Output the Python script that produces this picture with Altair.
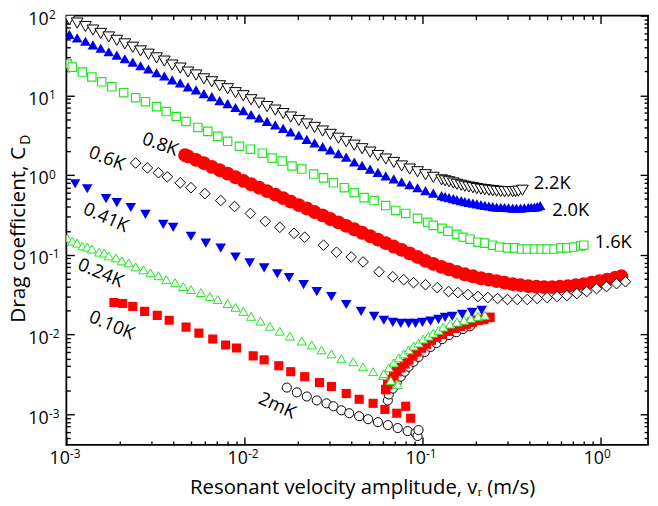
import altair as alt
import pandas as pd

# ---------------- data (v in m/s, C_D) ----------------
# 2.2K  (open triangles)
v_22 = [1.04e-3, 1.15e-3, 1.28e-3, 1.41e-3, 1.56e-3, 1.73e-3, 1.92e-3, 2.13e-3, 2.36e-3, 2.61e-3,
        2.89e-3, 3.21e-3, 3.55e-3, 3.93e-3, 4.36e-3, 4.82e-3, 5.35e-3, 5.92e-3, 6.56e-3, 7.26e-3,
        8.05e-3, 8.91e-3, 9.86e-3, 0.0109, 0.0121, 0.0134, 0.0149, 0.0165, 0.0182, 0.0202,
        0.0224, 0.0248, 0.0275, 0.0304, 0.0337, 0.0373, 0.0414, 0.0458, 0.0508, 0.0562,
        0.0622, 0.0690, 0.0764, 0.0847, 0.0938, 0.104, 0.115, 0.128, 0.134, 0.141,
        0.149, 0.156, 0.165, 0.173, 0.182, 0.192, 0.202, 0.213, 0.224, 0.236,
        0.248, 0.261, 0.275, 0.289, 0.304, 0.321, 0.333, 0.346, 0.364]
cd_22 = [89.2, 80.7, 73.1, 65.9, 59.8, 54.0, 49.0, 44.2, 40.1, 36.1,
         32.8, 29.5, 26.9, 24.0, 22.0, 19.6, 18.0, 16.1, 14.8, 13.2,
         12.1, 10.8, 9.89, 8.81, 7.98, 7.22, 6.53, 5.91, 5.35, 4.84,
         4.37, 3.96, 3.57, 3.24, 2.90, 2.62, 2.37, 2.14, 1.94, 1.76,
         1.59, 1.44, 1.30, 1.19, 1.10, 1.01, 0.937, 0.871, 0.847, 0.824,
         0.795, 0.767, 0.745, 0.724, 0.708, 0.694, 0.678, 0.665, 0.655, 0.646,
         0.637, 0.628, 0.622, 0.619, 0.619, 0.619, 0.622, 0.628, 0.646]

# 2.0K  (filled triangles)
v_20 = [1.04e-3, 1.15e-3, 1.28e-3, 1.41e-3, 1.56e-3, 1.73e-3, 1.92e-3, 2.13e-3, 2.36e-3, 2.61e-3,
        2.89e-3, 3.21e-3, 3.55e-3, 3.93e-3, 4.36e-3, 4.82e-3, 5.35e-3, 5.92e-3, 6.56e-3, 7.26e-3,
        8.05e-3, 8.91e-3, 9.86e-3, 0.0109, 0.0121, 0.0134, 0.0149, 0.0165, 0.0182, 0.0202,
        0.0224, 0.0248, 0.0275, 0.0304, 0.0337, 0.0373, 0.0414, 0.0458, 0.0508, 0.0562,
        0.0622, 0.0690, 0.0764, 0.0847, 0.0938, 0.104, 0.115, 0.128, 0.134, 0.141,
        0.149, 0.156, 0.165, 0.173, 0.182, 0.192, 0.202, 0.213, 0.224, 0.236,
        0.248, 0.261, 0.275, 0.289, 0.304, 0.321, 0.337, 0.355, 0.373, 0.393,
        0.408, 0.425, 0.441, 0.458]
cd_20 = [58.2, 52.6, 47.7, 43.0, 39.0, 35.2, 31.9, 28.8, 26.1, 23.5,
         21.4, 19.2, 17.5, 15.6, 14.3, 12.8, 11.7, 10.5, 9.65, 8.61,
         7.89, 7.04, 6.45, 5.74, 5.20, 4.71, 4.26, 3.85, 3.49, 3.16,
         2.80, 2.53, 2.28, 2.07, 1.86, 1.68, 1.46, 1.32, 1.19, 1.08,
         0.977, 0.897, 0.823, 0.756, 0.694, 0.637, 0.593, 0.552, 0.536, 0.521,
         0.506, 0.492, 0.479, 0.465, 0.455, 0.445, 0.436, 0.427, 0.417, 0.409,
         0.403, 0.397, 0.394, 0.392, 0.389, 0.386, 0.386, 0.386, 0.389, 0.392,
         0.394, 0.397, 0.403, 0.415]

# 1.6K  (open squares)
v_16 = [1.01e-3, 1.08e-3, 1.23e-3, 1.39e-3, 1.58e-3, 1.80e-3, 2.10e-3, 2.45e-3, 2.78e-3, 3.21e-3,
        3.64e-3, 4.14e-3, 4.70e-3, 5.48e-3, 6.23e-3, 7.08e-3, 8.05e-3, 9.38e-3, 0.0108, 0.0126,
        0.0143, 0.0163, 0.0185, 0.0210, 0.0245, 0.0278, 0.0316, 0.0364, 0.0414, 0.0470,
        0.0535, 0.0622, 0.0708, 0.0805, 0.0938, 0.107, 0.115, 0.129, 0.139, 0.156,
        0.169, 0.185, 0.205, 0.224, 0.248, 0.271, 0.300, 0.329, 0.360, 0.388,
        0.425, 0.464, 0.501, 0.548, 0.600, 0.647, 0.708, 0.774, 0.805]
cd_16 = [24.7, 22.6, 19.6, 17.0, 14.8, 12.8, 10.8, 9.33, 8.33, 7.22,
         6.26, 5.43, 4.70, 3.96, 3.53, 3.06, 2.65, 2.30, 2.11, 1.88,
         1.63, 1.50, 1.30, 1.19, 1.03, 0.923, 0.800, 0.694, 0.601, 0.521,
         0.479, 0.415, 0.360, 0.330, 0.286, 0.255, 0.234, 0.215, 0.197, 0.181,
         0.166, 0.157, 0.144, 0.140, 0.132, 0.125, 0.122, 0.122, 0.118, 0.118,
         0.118, 0.118, 0.118, 0.118, 0.122, 0.122, 0.125, 0.129, 0.132]

# 0.8K  (filled circles)
v_08 = [4.64e-3, 4.82e-3, 5.35e-3, 5.92e-3, 6.56e-3, 7.26e-3, 8.05e-3, 8.91e-3, 9.86e-3, 0.0109,
        0.0121, 0.0134, 0.0149, 0.0165, 0.0182, 0.0202, 0.0224, 0.0248, 0.0275, 0.0304,
        0.0337, 0.0373, 0.0414, 0.0458, 0.0508, 0.0562, 0.0622, 0.0690, 0.0764, 0.0847,
        0.0938, 0.104, 0.115, 0.128, 0.141, 0.156, 0.173, 0.192, 0.213, 0.236,
        0.261, 0.289, 0.321, 0.355, 0.393, 0.436, 0.482, 0.535, 0.592, 0.656,
        0.726, 0.805, 0.891, 0.986, 1.09, 1.21, 1.31]
cd_08 = [1.78, 1.72, 1.55, 1.41, 1.27, 1.15, 1.04, 0.939, 0.848, 0.767,
         0.694, 0.628, 0.568, 0.513, 0.465, 0.420, 0.381, 0.344, 0.312, 0.281,
         0.255, 0.230, 0.209, 0.189, 0.171, 0.155, 0.140, 0.127, 0.115, 0.104,
         0.0939, 0.0838, 0.0769, 0.0706, 0.0657, 0.0612, 0.0570, 0.0538, 0.0508, 0.0487,
         0.0467, 0.0447, 0.0428, 0.0416, 0.0404, 0.0399, 0.0393, 0.0393, 0.0399, 0.0404,
         0.0416, 0.0428, 0.0447, 0.0467, 0.0487, 0.0516, 0.0538]

# 0.6K  (open diamonds)
v_06 = [2.45e-3, 2.85e-3, 3.29e-3, 3.69e-3, 4.36e-3, 5.01e-3, 6.00e-3, 7.36e-3, 8.80e-3, 0.0108,
        0.0131, 0.0158, 0.0190, 0.0218, 0.0278, 0.0329, 0.0398, 0.0464, 0.0570, 0.0681,
        0.0784, 0.0891, 0.104, 0.121, 0.140, 0.158, 0.180, 0.205, 0.233, 0.264,
        0.300, 0.341, 0.388, 0.441, 0.501, 0.570, 0.647, 0.736, 0.836, 0.950,
        1.08, 1.23, 1.38]
cd_06 = [1.42, 1.23, 1.07, 0.950, 0.800, 0.694, 0.585, 0.479, 0.403, 0.330,
         0.263, 0.221, 0.186, 0.166, 0.132, 0.108, 0.0939, 0.0814, 0.0612, 0.0530,
         0.0487, 0.0447, 0.0422, 0.0387, 0.0346, 0.0336, 0.0317, 0.0300, 0.0291, 0.0283,
         0.0275, 0.0275, 0.0275, 0.0283, 0.0291, 0.0300, 0.0308, 0.0326, 0.0346, 0.0376,
         0.0399, 0.0434, 0.0460]

# 0.41K (filled down-triangles)
v_041 = [1.12e-3, 1.31e-3, 1.67e-3, 1.92e-3, 2.30e-3, 2.78e-3, 3.50e-3, 3.98e-3, 5.01e-3, 6.07e-3,
         7.36e-3, 8.91e-3, 0.0107, 0.0129, 0.0153, 0.0178, 0.0215, 0.0255, 0.0308, 0.0373,
         0.0452, 0.0535, 0.0607, 0.0681, 0.0755, 0.0836, 0.0914, 0.100, 0.111, 0.123,
         0.134, 0.147, 0.167, 0.190, 0.215]
cd_041 = [0.778, 0.674, 0.507, 0.452, 0.392, 0.321, 0.241, 0.221, 0.171, 0.140,
          0.121, 0.0939, 0.0791, 0.0686, 0.0578, 0.0516, 0.0422, 0.0346, 0.0300, 0.0238,
          0.0195, 0.0169, 0.0151, 0.0142, 0.0138, 0.0138, 0.0138, 0.0142, 0.0147, 0.0155,
          0.0164, 0.0169, 0.0179, 0.0190, 0.0201]

# 0.24K (open up-triangles): decreasing branch, then rising branch
v_024 = [1.01e-3, 1.08e-3, 1.15e-3, 1.23e-3, 1.31e-3, 1.39e-3, 1.53e-3, 1.63e-3, 1.73e-3, 1.90e-3,
         2.05e-3, 2.24e-3, 2.45e-3, 2.71e-3, 2.97e-3, 3.29e-3, 3.64e-3, 4.08e-3, 4.53e-3, 5.01e-3,
         5.70e-3, 6.39e-3, 7.08e-3, 8.05e-3, 8.91e-3, 9.86e-3, 0.0109, 0.0123, 0.0139, 0.0158,
         0.0180, 0.0210, 0.0239, 0.0271, 0.0308, 0.0350, 0.0408, 0.0464, 0.0528, 0.0600,
         0.0664, 0.0726]
cd_024 = [0.162, 0.148, 0.140, 0.129, 0.125, 0.118, 0.108, 0.105, 0.0966, 0.0913,
          0.0838, 0.0791, 0.0706, 0.0648, 0.0594, 0.0546, 0.0487, 0.0447, 0.0399, 0.0366,
          0.0336, 0.0300, 0.0275, 0.0245, 0.0219, 0.0195, 0.0169, 0.0147, 0.0127, 0.0110,
          0.00955, 0.00828, 0.00739, 0.00641, 0.00571, 0.00495, 0.00455, 0.00394, 0.00342, 0.00305,
          0.00264, 0.00236]
v_024r = [0.0607, 0.0647, 0.0690, 0.0736, 0.0784, 0.0836, 0.0891, 0.0950, 0.101, 0.108,
          0.115, 0.123, 0.131, 0.143, 0.156, 0.171, 0.187, 0.205, 0.224]
cd_024r = [0.00323, 0.00383, 0.00442, 0.00510, 0.00571, 0.00641, 0.00718, 0.00782, 0.00877, 0.00955,
           0.0104, 0.0113, 0.0124, 0.0135, 0.0143, 0.0151, 0.0160, 0.0169, 0.0174]

# 0.10K (filled squares): decreasing branch, then rising branch
v_010 = [1.85e-3, 2.07e-3, 2.36e-3, 2.75e-3, 3.24e-3, 3.78e-3, 4.70e-3, 5.55e-3, 6.64e-3, 7.84e-3,
         9.03e-3, 0.0112, 0.0129, 0.0156, 0.0182, 0.0218, 0.0264, 0.0308, 0.0373, 0.0441,
         0.0528, 0.0615, 0.0717, 0.0805, 0.0858]
cd_010 = [0.0252, 0.0245, 0.0225, 0.0195, 0.0174, 0.0151, 0.0124, 0.0104, 0.00877, 0.00739,
          0.00678, 0.00540, 0.00481, 0.00406, 0.00342, 0.00296, 0.00250, 0.00223, 0.00182, 0.00154,
          0.00137, 0.00115, 0.00103, 0.00126, 0.000892]
v_010r = [0.0622, 0.0639, 0.0664, 0.0690, 0.0717, 0.0755, 0.0794, 0.0836, 0.0880, 0.0926,
          0.0987, 0.105, 0.112, 0.120, 0.129, 0.140, 0.151, 0.163, 0.176, 0.190,
          0.205, 0.221, 0.239]
cd_010r = [0.00204, 0.00236, 0.00272, 0.00305, 0.00342, 0.00383, 0.00429, 0.00481, 0.00540, 0.00605,
           0.00678, 0.00760, 0.00852, 0.00929, 0.0101, 0.0110, 0.0120, 0.0127, 0.0135, 0.0143,
           0.0151, 0.0155, 0.0164]

# 2mK (open circles): decreasing branch, then rising branch
v_2m = [0.0173, 0.0197, 0.0224, 0.0255, 0.0289, 0.0316, 0.0350, 0.0388, 0.0441, 0.0495,
        0.0562, 0.0639, 0.0726, 0.0825, 0.0914, 0.0938, 0.0950]
cd_2m = [0.00216, 0.00188, 0.00167, 0.00149, 0.00137, 0.00126, 0.00112, 0.00103, 0.000945, 0.000867,
         0.000796, 0.000731, 0.000671, 0.000615, 0.000581, 0.000534, 0.000633]
v_2mr = [0.0639, 0.0647, 0.0681, 0.0717, 0.0755, 0.0794, 0.0836, 0.0891, 0.0950, 0.103,
         0.111, 0.120, 0.129, 0.141, 0.155, 0.169, 0.185]
cd_2mr = [0.00149, 0.00177, 0.00210, 0.00250, 0.00296, 0.00342, 0.00394, 0.00455, 0.00524, 0.00605,
          0.00698, 0.00782, 0.00877, 0.00983, 0.0107, 0.0117, 0.0127]

# curve labels
lab_text = ["2.2K", "2.0K", "1.6K", "0.8K", "0.6K", "0.41K", "0.24K", "0.10K", "2mK"]
lab_v = [0.535, 0.681, 1.18, 3.37e-3, 1.69e-3, 1.67e-3, 1.56e-3, 1.80e-3, 0.0153]
lab_cd = [0.80, 0.360, 0.144, 2.44, 1.63, 0.294, 0.0594, 0.0131, 0.00129]
lab_angle = [0, 0, 0, 20, 22, 24, 23, 23, 25]

# axis ticks
x_major = [1e-3, 1e-2, 1e-1, 1.0]
x_minor = [2e-3, 3e-3, 4e-3, 5e-3, 6e-3, 7e-3, 8e-3, 9e-3,
           2e-2, 3e-2, 4e-2, 5e-2, 6e-2, 7e-2, 8e-2, 9e-2,
           0.2, 0.3, 0.4, 0.5, 0.6, 0.7, 0.8, 0.9]
y_major = [1e-3, 1e-2, 1e-1, 1.0, 10.0, 100.0]
y_minor = [5e-4, 6e-4, 7e-4, 8e-4, 9e-4,
           2e-3, 3e-3, 4e-3, 5e-3, 6e-3, 7e-3, 8e-3, 9e-3,
           2e-2, 3e-2, 4e-2, 5e-2, 6e-2, 7e-2, 8e-2, 9e-2,
           0.2, 0.3, 0.4, 0.5, 0.6, 0.7, 0.8, 0.9,
           2, 3, 4, 5, 6, 7, 8, 9,
           20, 30, 40, 50, 60, 70, 80, 90]

# ---------------- chart ----------------
FONT = "Open Sans"
W, H = 588, 434
xs = alt.Scale(type="log", domain=[1e-3, 1.848], nice=False)
ys = alt.Scale(type="log", domain=[4.12e-4, 100], nice=False)

BLACK = "#000000"
BLUE = "#0000f0"
GREEN = "#22e622"
RED = "#ff0000"


def frame(v, cd):
    return pd.DataFrame(list(zip(v, cd)), columns=["v", "cd"])


def enc():
    return dict(x=alt.X("v:Q", scale=xs, axis=None),
                y=alt.Y("cd:Q", scale=ys, axis=None))


def open_pts(v, cd, shape, size, color, sw=1.0):
    return alt.Chart(frame(v, cd)).mark_point(
        shape=shape, size=size, filled=True, fill="white", stroke=color,
        strokeWidth=sw, opacity=1, clip=True).encode(**enc())


def solid_pts(v, cd, shape, size, color):
    return alt.Chart(frame(v, cd)).mark_point(
        shape=shape, size=size, filled=True, color=color, opacity=1,
        clip=True).encode(**enc())


data_layers = [
    open_pts(v_2m, cd_2m, "circle", 85, BLACK),
    open_pts(v_2mr, cd_2mr, "circle", 85, BLACK),
    solid_pts(v_010, cd_010, "square", 85, RED),
    solid_pts(v_010r, cd_010r, "square", 95, RED),
    open_pts(v_024, cd_024, "triangle-up", 85, GREEN),
    open_pts(v_024r, cd_024r, "triangle-up", 85, GREEN),
    solid_pts(v_041, cd_041, "triangle-down", 115, BLUE),
    solid_pts(v_08, cd_08, "circle", 195, RED),
    open_pts(v_06, cd_06, "diamond", 115, BLACK),
    open_pts(v_16, cd_16, "square", 72, GREEN, 1.2),
    solid_pts(v_20, cd_20, "triangle-up", 115, BLUE),
    open_pts(v_22, cd_22, "triangle-down", 140, BLACK),
]

labels_df = pd.DataFrame({"label": lab_text, "v": lab_v, "cd": lab_cd, "angle": lab_angle})
label_layer = alt.Chart(labels_df).mark_text(
    font=FONT, fontSize=18.5, color="black", align="center", baseline="middle"
).encode(
    x=alt.X("v:Q", scale=xs, axis=None),
    y=alt.Y("cd:Q", scale=ys, axis=None),
    text="label:N",
    angle=alt.Angle("angle:Q", scale=None),
)

dummy = pd.DataFrame({"v": [0.01], "cd": [1.0]})


def axis_layer(xaxis, yaxis):
    return alt.Chart(dummy).mark_point(opacity=0, size=1).encode(
        x=alt.X("v:Q", scale=xs, axis=xaxis),
        y=alt.Y("cd:Q", scale=ys, axis=yaxis),
    )


common = dict(grid=False, domain=False)


def tick_axis(orient, offset, values, size):
    return alt.Axis(orient=orient, offset=offset, values=values, tickSize=size,
                    tickWidth=1.4, tickColor="black", ticks=True, labels=False,
                    title=None, **common)


exp_expr = "'' + round(log(datum.value) / LN10)"

x_lab = alt.Axis(orient="bottom", values=x_major, labelExpr="'10'", labelFont=FONT,
                 labelFontSize=18, labelColor="black", labelAlign="right",
                 labelBaseline="top", labelOffset=3, labelPadding=5, ticks=False,
                 tickSize=0, labelFlush=False, labelOverlap=False,
                 title="Resonant velocity amplitude, v\u1d63 (m/s)", titleFont=FONT,
                 titleFontSize=20.5, titleFontWeight="normal", titleColor="black",
                 titleX=W / 2 + 5, titleY=49, titleAlign="center",
                 titleBaseline="alphabetic", **common)
x_exp = alt.Axis(orient="bottom", values=x_major, labelExpr=exp_expr, labelFont=FONT,
                 labelFontSize=12, labelColor="black", labelAlign="left",
                 labelBaseline="top", labelOffset=3, labelPadding=4, ticks=False,
                 tickSize=0, labelFlush=False, labelOverlap=False, title=None, **common)
y_lab = alt.Axis(orient="left", values=y_major, labelExpr="'10'", labelFont=FONT,
                 labelFontSize=18, labelColor="black", labelAlign="left",
                 labelBaseline="middle", labelOffset=4, labelPadding=39, ticks=False,
                 tickSize=0, labelFlush=False, labelOverlap=False,
                 title="Drag coefficient, C", titleFont=FONT, titleFontSize=21,
                 titleFontWeight="normal", titleColor="black", titleAngle=270,
                 titleX=-42, titleY=310, titleAlign="left", titleBaseline="alphabetic",
                 **common)
y_exp = alt.Axis(orient="left", values=y_major, labelExpr=exp_expr, labelFont=FONT,
                 labelFontSize=12, labelColor="black", labelAlign="left",
                 labelBaseline="middle", labelOffset=-1, labelPadding=18, ticks=False,
                 tickSize=0, labelFlush=False, labelOverlap=False,
                 title="D", titleFont=FONT, titleFontSize=14, titleFontWeight="normal",
                 titleColor="black", titleAngle=270, titleX=-37, titleY=130,
                 titleAlign="left", titleBaseline="alphabetic", **common)

axis_layers = [
    axis_layer(x_lab, y_lab),
    axis_layer(x_exp, y_exp),
    axis_layer(tick_axis("top", -H, x_major, 8), tick_axis("right", -W, y_major, 8)),
    axis_layer(tick_axis("top", -H, x_minor, 4), tick_axis("right", -W, y_minor, 4)),
    axis_layer(tick_axis("bottom", -H, x_major, 8), tick_axis("left", -W, y_major, 8)),
    axis_layer(tick_axis("bottom", -H, x_minor, 4), tick_axis("left", -W, y_minor, 4)),
]

chart = alt.layer(*data_layers, label_layer, *axis_layers).resolve_axis(
    x="independent", y="independent"
).properties(
    width=W, height=H,
    padding={"left": 59, "top": 5, "right": 2, "bottom": 58},
    autosize=alt.AutoSizeParams(type="none"),
).configure_view(stroke="black", strokeWidth=1.8)

chart.save("out.html", embed_options={"renderer": "svg", "actions": False})
